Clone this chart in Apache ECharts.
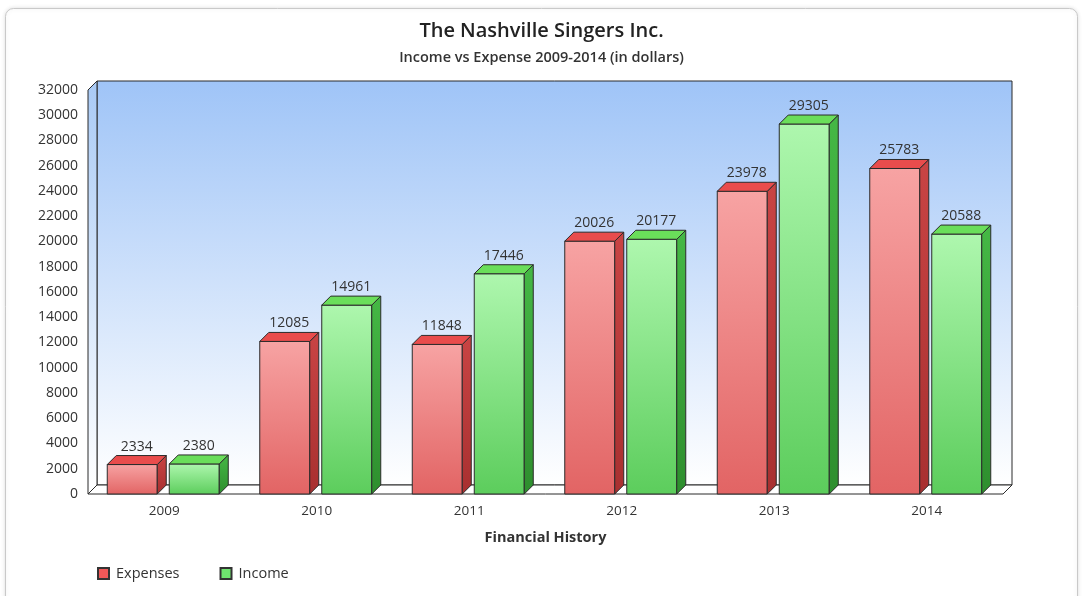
<!DOCTYPE html>
<html>
<head>
<meta charset="utf-8">
<script src="https://cdn.jsdelivr.net/npm/echarts@6/dist/echarts.min.js"></script>
<style>
html,body{margin:0;padding:0;background:#fff;}
#c{width:1083px;height:596px;}
</style>
</head>
<body>
<div id="c"></div>
<script>
var categories = ['2009', '2010', '2011', '2012', '2013', '2014'];
var expenses = [2334, 12085, 11848, 20026, 23978, 25783];
var income = [2380, 14961, 17446, 20177, 29305, 20588];
var seriesNames = ['Expenses', 'Income'];

var DX = 9, DY = -9, BW = 50;
var FONT = "'Open Sans', 'Noto Sans', sans-serif";

function barRenderer(offset, colors) {
  return function (params, api) {
    var idx = api.value(0);
    var val = api.value(1);
    var top = api.coord([idx, val]);
    var base = api.coord([idx, 0]);
    var x0 = top[0] + offset - BW / 2;
    var x1 = x0 + BW;
    var yT = top[1], yB = base[1];
    var stroke = '#2b2b2b';
    return {
      type: 'group',
      children: [
        {
          type: 'rect',
          shape: { x: x0, y: yT, width: BW, height: yB - yT },
          style: {
            fill: new echarts.graphic.LinearGradient(0, 0, 0, 1, [
              { offset: 0, color: colors.frontTop },
              { offset: 1, color: colors.frontBottom }
            ]),
            stroke: stroke, lineWidth: 1
          }
        },
        {
          type: 'polygon',
          shape: { points: [[x1, yT], [x1 + DX, yT + DY], [x1 + DX, yB + DY], [x1, yB]] },
          style: {
            fill: new echarts.graphic.LinearGradient(0, 0, 0, 1, [
              { offset: 0, color: colors.sideTop },
              { offset: 1, color: colors.sideBottom }
            ]),
            stroke: stroke, lineWidth: 1
          }
        },
        {
          type: 'polygon',
          shape: { points: [[x0, yT], [x0 + DX, yT + DY], [x1 + DX, yT + DY], [x1, yT]] },
          style: { fill: colors.top, stroke: stroke, lineWidth: 1 }
        },
        {
          type: 'text',
          style: {
            text: String(val),
            x: x0 + BW / 2 + DX / 2,
            y: yT + DY - 2,
            align: 'center',
            verticalAlign: 'bottom',
            fill: '#333',
            font: "14px " + FONT
          }
        }
      ]
    };
  };
}

function toData(arr) {
  return arr.map(function (v, i) { return [i, v]; });
}

var chart = echarts.init(document.getElementById('c'));
chart.setOption({
  animation: false,
  backgroundColor: '#fff',
  graphic: [{
    type: 'rect',
    shape: { x: 5.5, y: 8.5, width: 1072, height: 620, r: 8 },
    style: { fill: '#fff', stroke: '#c9c9c9', lineWidth: 1, shadowBlur: 4, shadowColor: 'rgba(0,0,0,0.12)' },
    z: -10
  }],
  title: [{
    text: 'The Nashville Singers Inc.',
    subtext: 'Income vs Expense 2009-2014 (in dollars)',
    left: 'center',
    top: 16,
    itemGap: 9,
    textStyle: { fontFamily: FONT, fontSize: 20, fontWeight: 600, color: '#222' },
    subtextStyle: { fontFamily: FONT, fontSize: 14.5, fontWeight: 600, color: '#333' }
  }],
  legend: {
    data: seriesNames,
    left: 92,
    top: 561,
    itemWidth: 11,
    itemHeight: 11,
    itemGap: 40,
    icon: 'rect',
    textStyle: { fontFamily: FONT, fontSize: 14.5, color: '#333', padding: [0, 0, 0, 2] }
  },
  grid: { left: 88, right: 80, top: 90, bottom: 102 },
  xAxis: {
    type: 'category',
    data: categories,
    name: 'Financial History',
    nameLocation: 'middle',
    nameGap: 36,
    nameTextStyle: { fontFamily: FONT, fontSize: 14.5, fontWeight: 'bold', color: '#333' },
    axisLine: { show: false },
    axisTick: { show: false },
    axisLabel: { margin: 10, fontFamily: FONT, fontSize: 13.5, color: '#333' },
    splitLine: { show: false }
  },
  yAxis: {
    type: 'value',
    min: 0,
    max: 32000,
    interval: 2000,
    axisLine: { show: false },
    axisTick: { show: false },
    axisLabel: { margin: 10, fontFamily: FONT, fontSize: 14, color: '#333', formatter: function (v) { return String(v); } },
    splitLine: { show: false }
  },
  series: [
    {
      type: 'custom',
      name: 'frame',
      silent: true,
      z: 1,
      data: [[0, 0]],
      renderItem: function (params, api) {
        var cs = params.coordSys;
        var x = cs.x, y = cs.y, w = cs.width, h = cs.height;
        var grad = new echarts.graphic.LinearGradient(0, 0, 0, 1, [
          { offset: 0, color: '#9fc4f7' },
          { offset: 1, color: '#ffffff' }
        ]);
        var stroke = '#2b2b2b';
        return {
          type: 'group',
          children: [
            { type: 'rect', shape: { x: x + DX, y: y + DY, width: w, height: h }, style: { fill: grad, stroke: stroke, lineWidth: 1 } },
            { type: 'polygon', shape: { points: [[x, y], [x + DX, y + DY], [x + DX, y + h + DY], [x, y + h]] },
              style: { fill: new echarts.graphic.LinearGradient(0, 0, 0, 1, [
                { offset: 0, color: '#a9caf5' }, { offset: 1, color: '#ffffff' }]), stroke: stroke, lineWidth: 1 } },
            { type: 'polygon', shape: { points: [[x, y + h], [x + DX, y + h + DY], [x + w + DX, y + h + DY], [x + w, y + h]] },
              style: { fill: '#ffffff', stroke: stroke, lineWidth: 1 } }
          ]
        };
      }
    },
    {
      type: 'custom',
      name: 'Expenses',
      z: 2,
      itemStyle: { color: '#f05858', borderColor: '#333', borderWidth: 1 },
      data: toData(expenses),
      encode: { x: 0, y: 1 },
      renderItem: barRenderer(-32, {
        frontTop: '#f7a3a3', frontBottom: '#e26464',
        sideTop: '#c94444', sideBottom: '#a83030',
        top: '#e94c4c'
      })
    },
    {
      type: 'custom',
      name: 'Income',
      z: 2,
      itemStyle: { color: '#6fe46f', borderColor: '#333', borderWidth: 1 },
      data: toData(income),
      encode: { x: 0, y: 1 },
      renderItem: barRenderer(30, {
        frontTop: '#aef7ae', frontBottom: '#5ccd5c',
        sideTop: '#45b845', sideBottom: '#2e8e2e',
        top: '#6ade5a'
      })
    }
  ]
});
</script>
</body>
</html>
